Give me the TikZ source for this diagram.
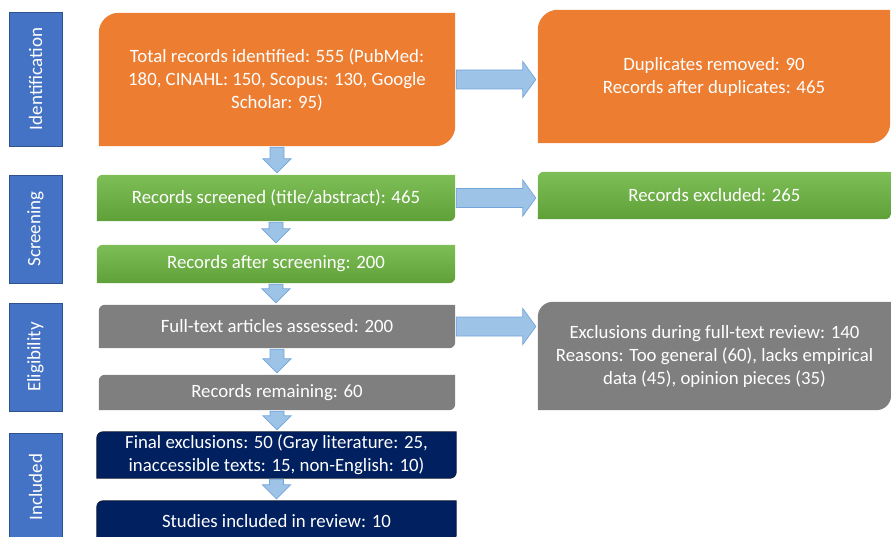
\documentclass[tikz,border=0pt]{standalone}
\usepackage{fontspec}
\setmainfont{Carlito}
\usepackage{tikz}
\usetikzlibrary{calc,backgrounds}

\definecolor{laneblue}{HTML}{4472C4}
\definecolor{laneedge}{HTML}{2F528F}
\definecolor{orng}{HTML}{ED7D31}
\definecolor{grtop}{HTML}{7DBE56}
\definecolor{grbot}{HTML}{60A038}
\definecolor{gry}{HTML}{7F7F7F}
\definecolor{navy}{HTML}{002060}
\definecolor{navyedge}{HTML}{101830}
\definecolor{arrfill}{HTML}{9DC3E6}
\definecolor{arredge}{HTML}{74A5DA}

% box with two round corners (top left, bottom right)
\newcommand{\diagbox}[3]{%
  \path[#2] (#1.south west) -- ([yshift=-#3]#1.north west)
    arc[start angle=180,end angle=90,radius=#3] -- (#1.north east)
    -- ([yshift=#3]#1.south east) arc[start angle=0,end angle=-90,radius=#3] -- cycle;}

% block arrows
\newcommand{\downblock}[2]{%
  \path[blockarrow] let \p1=(#1.south), \p2=(#2.north) in
    (\x1-7pt,\y1-1pt) -- (\x1+7pt,\y1-1pt) -- (\x1+7pt,\y2+16pt) -- (\x1+14pt,\y2+16pt)
    -- (\x1,\y2+2pt) -- (\x1-14pt,\y2+16pt) -- (\x1-7pt,\y2+16pt) -- cycle;}
\newcommand{\rightblock}[2]{%
  \path[blockarrow] let \p1=(#1.east), \p2=(#2.west) in
    (\x1+1pt,\y1+9.5pt) -- (\x2-15pt,\y1+9.5pt) -- (\x2-15pt,\y1+18pt) -- (\x2-2pt,\y1)
    -- (\x2-15pt,\y1-18pt) -- (\x2-15pt,\y1-9.5pt) -- (\x1+1pt,\y1-9.5pt) -- cycle;}

\begin{document}
\begin{tikzpicture}[x=1pt,y=-1pt]
\tikzstyle{lane}=[rectangle, fill=laneblue, draw=laneedge, line width=0.8pt, text=white, rotate=90, inner sep=0pt, minimum height=53pt, font=\fontsize{19}{22}\selectfont]
\tikzstyle{box}=[rectangle, inner sep=0pt, text=white, align=center, font=\fontsize{18.8}{23}\selectfont]
\tikzstyle{blockarrow}=[fill=arrfill, draw=arredge, line width=0.7pt, line join=miter]
  \useasboundingbox (0,0) rectangle (891,537);

  \node[lane, minimum width=134pt] (l1) at (35.5,79) {Identification};
  \node[lane, minimum width=108pt] (l2) at (35.5,229) {Screening};
  \node[lane, minimum width=108pt] (l3) at (35.5,357) {Eligibility};
  \node[lane, minimum width=108pt] (l4) at (35.5,487) {Included};

  \node[box, minimum width=356pt, minimum height=133pt] (id) at (277,79.5) {Total records identified: 555 (PubMed:\\180, CINAHL: 150, Scopus: 130, Google\\Scholar: 95)};
  \node[box, minimum width=352pt, minimum height=133pt] (dup) at (714,76.5) {Duplicates removed: 90\\Records after duplicates: 465};

  \node[box, minimum width=358pt, minimum height=46pt] (scr) at (276,198) {Records screened (title/abstract): 465};
  \node[box, minimum width=353pt, minimum height=47pt] (exc) at (714.5,195.5) {Records excluded: 265};
  \node[box, minimum width=358pt, minimum height=38pt] (aft) at (276,264) {Records after screening: 200};

  \node[box, minimum width=356pt, minimum height=43pt] (ft) at (277,326.5) {Full-text articles assessed: 200};
  \node[box, minimum width=353pt, minimum height=108pt] (fte) at (714.5,356) {Exclusions during full-text review: 140\\Reasons: Too general (60), lacks empirical\\data (45), opinion pieces (35)};
  \node[box, minimum width=356pt, minimum height=35pt] (rem) at (277,392.5) {Records remaining: 60};

  \node[box, minimum width=359pt, minimum height=46pt] (fin) at (276.5,455) {Final exclusions: 50 (Gray literature: 25,\\inaccessible texts: 15, non-English: 10)};
  \node[box, minimum width=359pt, minimum height=40pt] (inc) at (276.5,521) {Studies included in review: 10};

  \begin{scope}[on background layer]
    \diagbox{id}{fill=orng}{20pt}
    \diagbox{dup}{fill=orng}{20pt}
    \diagbox{scr}{top color=grtop, bottom color=grbot}{6pt}
    \diagbox{exc}{top color=grtop, bottom color=grbot}{6pt}
    \diagbox{aft}{top color=grtop, bottom color=grbot}{6pt}
    \diagbox{ft}{fill=gry}{6pt}
    \diagbox{fte}{fill=gry}{15pt}
    \diagbox{rem}{fill=gry}{6pt}
    \diagbox{fin}{fill=navy, draw=navyedge, line width=0.8pt}{6pt}
    \diagbox{inc}{fill=navy, draw=navyedge, line width=0.8pt}{6pt}
  \end{scope}

  \downblock{id}{scr}
  \downblock{scr}{aft}
  \downblock{aft}{ft}
  \downblock{ft}{rem}
  \downblock{rem}{fin}
  \downblock{fin}{inc}

  \rightblock{id}{dup}
  \rightblock{scr}{exc}
  \rightblock{ft}{fte}
\end{tikzpicture}
\end{document}
